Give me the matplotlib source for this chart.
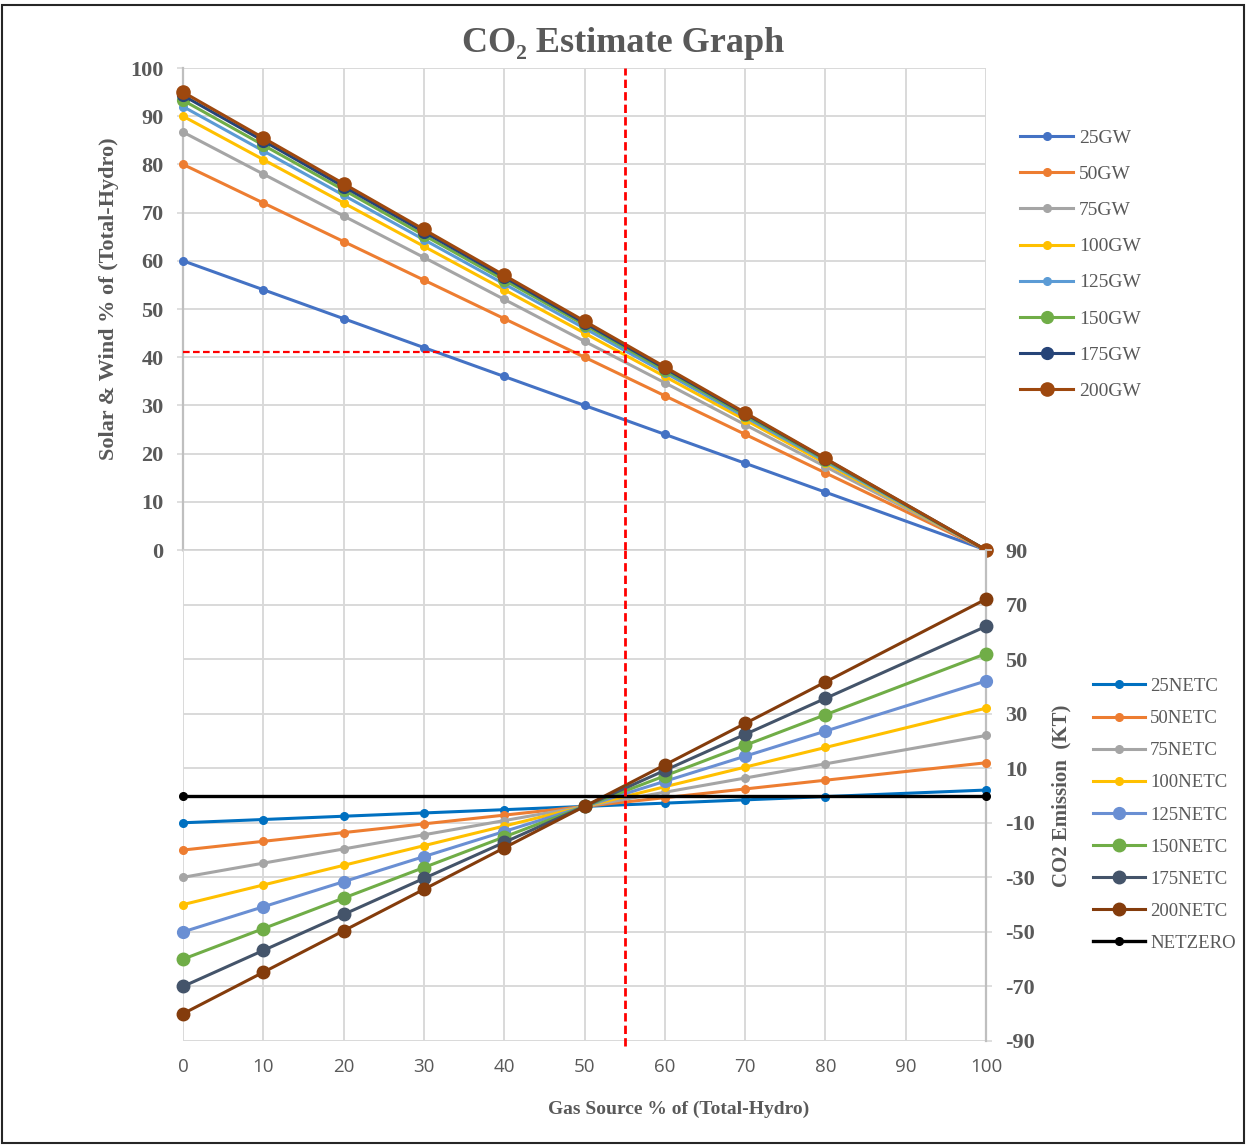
import matplotlib.pyplot as plt
from matplotlib.patches import Rectangle

plt.rcParams['axes.unicode_minus'] = False

# gas share of (total - hydro), %
gas_pct = [0, 10, 20, 30, 40, 50, 60, 70, 80, 100]

# solar & wind share for each installed capacity
gw_labels = ['25GW', '50GW', '75GW', '100GW', '125GW', '150GW', '175GW', '200GW']
gw_25 = [60, 54, 48, 42, 36, 30, 24, 18, 12, 0]
gw_50 = [80, 72, 64, 56, 48, 40, 32, 24, 16, 0]
gw_75 = [86.7, 78, 69.3, 60.7, 52, 43.3, 34.7, 26, 17.3, 0]
gw_100 = [90, 81, 72, 63, 54, 45, 36, 27, 18, 0]
gw_125 = [92, 82.8, 73.6, 64.4, 55.2, 46, 36.8, 27.6, 18.4, 0]
gw_150 = [93.3, 84, 74.7, 65.3, 56, 46.7, 37.3, 28, 18.7, 0]
gw_175 = [94.3, 84.9, 75.4, 66, 56.6, 47.1, 37.7, 28.3, 18.9, 0]
gw_200 = [95, 85.5, 76, 66.5, 57, 47.5, 38, 28.5, 19, 0]

# net CO2 emission (KT)
netc_labels = ['25NETC', '50NETC', '75NETC', '100NETC', '125NETC', '150NETC', '175NETC', '200NETC']
netc_25 = [-10, -8.8, -7.6, -6.4, -5.2, -4, -2.8, -1.6, -0.4, 2]
netc_50 = [-20, -16.8, -13.6, -10.4, -7.2, -4, -0.8, 2.4, 5.6, 12]
netc_75 = [-30, -24.8, -19.6, -14.4, -9.2, -4, 1.2, 6.4, 11.6, 22]
netc_100 = [-40, -32.8, -25.6, -18.4, -11.2, -4, 3.2, 10.4, 17.6, 32]
netc_125 = [-50, -40.8, -31.6, -22.4, -13.2, -4, 5.2, 14.4, 23.6, 42]
netc_150 = [-60, -48.8, -37.6, -26.4, -15.2, -4, 7.2, 18.4, 29.6, 52]
netc_175 = [-70, -56.8, -43.6, -30.4, -17.2, -4, 9.2, 22.4, 35.6, 62]
netc_200 = [-80, -64.8, -49.6, -34.4, -19.2, -4, 11.2, 26.4, 41.6, 72]
netzero_x = [0, 100]
netzero_y = [0, 0]

gas_marker = 55
solar_marker = 41

gw_series = [gw_25, gw_50, gw_75, gw_100, gw_125, gw_150, gw_175, gw_200]
gw_colors = ['#4472C4', '#ED7D31', '#A5A5A5', '#FFC000', '#5B9BD5', '#70AD47', '#264478', '#9E480E']
gw_msize = [5.5, 5.5, 5.5, 5.5, 5.5, 8.5, 8.5, 9.5]

netc_series = [netc_25, netc_50, netc_75, netc_100, netc_125, netc_150, netc_175, netc_200]
netc_colors = ['#0070C0', '#ED7D31', '#A5A5A5', '#FFC000', '#6A8FD3', '#70AD47', '#44546A', '#843C0C']
netc_msize = [5.5, 5.5, 5.5, 5.5, 8.5, 9, 9, 9]

grid_c = '#D9D9D9'
text_c = '#595959'
serif = ['Liberation Serif', 'DejaVu Serif']

fig = plt.figure(figsize=(12.47, 11.46), dpi=100)
W, H = 1247, 1146
x0, x1 = 183 / W, 986 / W
ax_top = fig.add_axes([x0, 1 - 550 / H, x1 - x0, (550 - 68) / H])
ax_bot = fig.add_axes([x0, 1 - 1041 / H, x1 - x0, (1041 - 550) / H])

for ax in (ax_top, ax_bot):
    ax.set_xlim(0, 100)
    ax.set_xticks(range(0, 101, 10))
    ax.grid(True, color=grid_c, lw=1.4)
    ax.set_axisbelow(True)
    for s in ax.spines.values():
        s.set_visible(False)
    ax.tick_params(colors=grid_c, length=4, width=1.2)

# --- top: solar & wind share ---
ax_top.set_ylim(0, 100)
ax_top.set_yticks(range(0, 101, 10))
ax_top.spines['left'].set_visible(True)
ax_top.spines['left'].set_color('#BFBFBF')
ax_top.spines['left'].set_linewidth(1.6)
ax_top.spines['bottom'].set_visible(True)
ax_top.spines['bottom'].set_color('#D0D0D0')
ax_top.spines['bottom'].set_linewidth(1.8)
ax_top.tick_params(axis='x', bottom=False, labelbottom=False)
ax_top.tick_params(axis='y', labelcolor=text_c, pad=10)
for lab in ax_top.get_yticklabels():
    lab.set_fontfamily(serif)
    lab.set_fontweight('bold')
    lab.set_fontsize(16)

gw_handles = []
for vals, c, ms, lab in zip(gw_series, gw_colors, gw_msize, gw_labels):
    h, = ax_top.plot(gas_pct, vals, color=c, lw=2.2, marker='o', ms=ms,
                     label=lab, clip_on=False, zorder=3)
    gw_handles.append(h)

ax_top.axvline(gas_marker, color='#FF0000', lw=2, ls=(0, (3, 1.5)), zorder=4)
ax_top.plot([0, gas_marker], [solar_marker, solar_marker], color='#FF0000',
            lw=1.6, ls=(0, (3, 1.5)), zorder=4)
ax_top.set_ylabel('Solar & Wind % of (Total-Hydro)', fontfamily=serif,
                  fontweight='bold', fontsize=16, color=text_c)
ax_top.yaxis.set_label_coords(-0.08, 0.521)

# --- bottom: CO2 emission ---
ax_bot.set_ylim(-90, 90)
ax_bot.set_yticks(range(-90, 91, 20))
ax_bot.yaxis.tick_right()
ax_bot.yaxis.set_label_position('right')
ax_bot.spines['right'].set_visible(True)
ax_bot.spines['right'].set_color('#BFBFBF')
ax_bot.spines['right'].set_linewidth(1.6)
ax_bot.tick_params(axis='y', labelcolor=text_c, pad=10)
ax_bot.tick_params(axis='x', bottom=False, labelcolor=text_c, labelsize=13.5, pad=8)
for lab in ax_bot.get_yticklabels():
    lab.set_fontfamily(serif)
    lab.set_fontweight('bold')
    lab.set_fontsize(16)
for lab in ax_bot.get_xticklabels():
    lab.set_fontfamily(['Open Sans', 'DejaVu Sans'])

netc_handles = []
for vals, c, ms, lab in zip(netc_series, netc_colors, netc_msize, netc_labels):
    h, = ax_bot.plot(gas_pct, vals, color=c, lw=2.2, marker='o', ms=ms,
                     label=lab, clip_on=False, zorder=3)
    netc_handles.append(h)
h, = ax_bot.plot(netzero_x, netzero_y, color='black', lw=2.4, marker='o', ms=5.5,
                 label='NETZERO', clip_on=False, zorder=3)
netc_handles.append(h)

ax_bot.axvline(gas_marker, ymin=-0.01, color='#FF0000', lw=2, ls=(0, (3, 1.5)),
               zorder=4, clip_on=False)
ax_bot.set_ylabel('CO2 Emission  (KT)', fontfamily=serif, fontweight='bold',
                  fontsize=15, color=text_c, labelpad=12)

# legends
fig.legend(handles=gw_handles, loc='upper left', bbox_to_anchor=(1003 / W, 1 - 112 / H),
           frameon=False, prop={'family': serif, 'size': 14}, labelcolor=text_c,
           handlelength=2.7, labelspacing=0.95, handletextpad=0.3)
fig.legend(handles=netc_handles, loc='upper left', bbox_to_anchor=(1076 / W, 1 - 661 / H),
           frameon=False, prop={'family': serif, 'size': 13.5}, labelcolor=text_c,
           handlelength=2.8, labelspacing=0.8, handletextpad=0.25)

fig.text(623 / W, 1 - 43 / H, 'CO₂ Estimate Graph', ha='center', va='center',
         fontfamily=serif, fontweight='bold', fontsize=26, color=text_c)
fig.text(679 / W, 1 - 1109 / H, 'Gas Source % of (Total-Hydro)', ha='center', va='center',
         fontfamily=serif, fontweight='bold', fontsize=14, color=text_c)

# outer frame
fig.patches.append(Rectangle((2 / W, 3 / H), 1 - 5 / W, 1 - 8 / H, transform=fig.transFigure,
                             fill=False, edgecolor='#262626', lw=1.5))

fig.savefig('out.png', dpi=100, facecolor='white')
